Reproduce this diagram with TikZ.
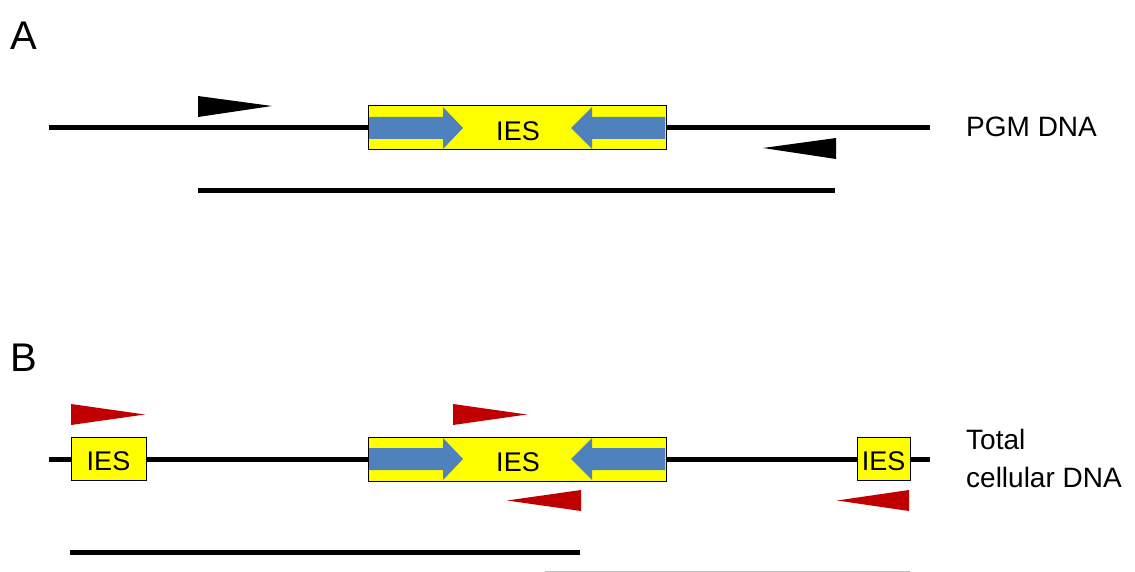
\documentclass[tikz,border=0pt]{standalone}
\usepackage{fontspec}
\setmainfont{Liberation Sans}
\definecolor{iesyellow}{HTML}{FFFF00}
\definecolor{iesblue}{HTML}{4F81BD}
\definecolor{primred}{HTML}{C00000}
\tikzset{
  dnaline/.style={line width=5pt, black},
  iesbox/.style={draw=black, line width=1pt, fill=iesyellow},
  bluearrow/.style={fill=iesblue, draw=none},
  primerblack/.style={fill=black, draw=none},
  primerred/.style={fill=primred, draw=none},
  lbl/.style={font=\fontsize{28}{38}\selectfont, anchor=west, align=left, inner sep=0pt},
  panel/.style={font=\fontsize{40}{44}\selectfont, inner sep=0pt},
  iestxt/.style={font=\fontsize{27}{30}\selectfont, inner sep=0pt}
}
\begin{document}
\begin{tikzpicture}[x=1pt,y=-1pt]
\useasboundingbox (0,0) rectangle (1135,572);
\fill[white] (0,0) rectangle (1135,572);
% panel labels
\node[panel] (pA) at (24,36) {A};
\node[panel] (pB) at (24,358) {B};
% ===== Panel A =====
\draw[dnaline] (49,128) -- (930,128);
\draw[iesbox] (368,106) rectangle (666,150);
\fill[bluearrow] (369,117) -- (443,117) -- (443,107) -- (463,128) -- (443,149) -- (443,139) -- (369,139) -- cycle;
\fill[bluearrow] (665,117) -- (592,117) -- (592,107) -- (571,128) -- (592,149) -- (592,139) -- (665,139) -- cycle;
\node[iestxt] (iesA) at (518,131) {IES};
\fill[primerblack] (198,96) -- (272,106) -- (198,117) -- cycle;
\fill[primerblack] (836,138) -- (763,148) -- (836,159) -- cycle;
\draw[dnaline] (198,191) -- (835,191);
\node[lbl] (pgm) at (966,127) {PGM DNA};
% ===== Panel B =====
\draw[dnaline] (49,459) -- (930,459);
\draw[iesbox] (71,437) rectangle (146,480);
\node[iestxt] (iesB1) at (108.5,461) {IES};
\draw[iesbox] (368,437) rectangle (666,481);
\fill[bluearrow] (369,448) -- (443,448) -- (443,438) -- (463,459) -- (443,480) -- (443,470) -- (369,470) -- cycle;
\fill[bluearrow] (665,448) -- (592,448) -- (592,438) -- (571,459) -- (592,480) -- (592,470) -- (665,470) -- cycle;
\node[iestxt] (iesB2) at (518,462) {IES};
\draw[iesbox] (857,437) rectangle (910,480);
\node[iestxt] (iesB3) at (883.5,461) {IES};
\fill[primerred] (71,404) -- (145,414.5) -- (71,425) -- cycle;
\fill[primerred] (453,404) -- (527,414.5) -- (453,425) -- cycle;
\fill[primerred] (581,490) -- (507,500.5) -- (581,511) -- cycle;
\fill[primerred] (909,490) -- (837,500.5) -- (909,511) -- cycle;
\draw[dnaline] (70,552) -- (580,552);
\draw[line width=2pt, black!25] (545,571.5) -- (910,571.5);
\node[lbl] (tot) at (966,458) {Total\\cellular DNA};
\end{tikzpicture}
\end{document}
